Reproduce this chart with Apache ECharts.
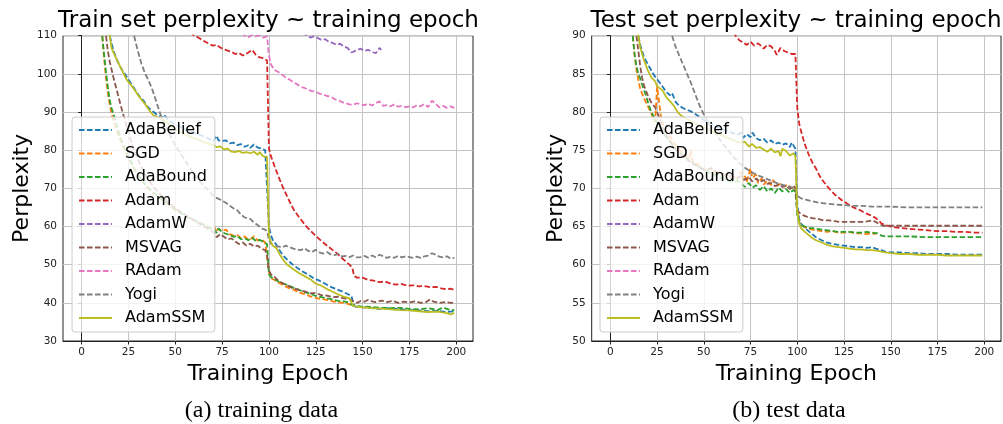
<!DOCTYPE html>
<html>
<head>
<meta charset="utf-8">
<script src="https://cdn.jsdelivr.net/npm/echarts@6/dist/echarts.min.js"></script>
<style>html,body{margin:0;padding:0;background:#fff;}#c{width:1003px;height:424px;}</style>
</head>
<body>
<div id="c"></div>
<script>
// ---------- data ----------
const seriesNames = ['AdaBelief','SGD','AdaBound','Adam','AdamW','MSVAG','RAdam','Yogi','AdamSSM'];
const seriesColors = ['#1f77b4','#ff7f0e','#2ca02c','#d62728','#9467bd','#8c564b','#e377c2','#7f7f7f','#bcbd22'];
const xTicks = [0,25,50,75,100,125,150,175,200];
const trainYTicks = [30,40,50,60,70,80,90,100,110];
const testYTicks = [50,55,60,65,70,75,80,85,90];

// train set perplexity: [epoch, perplexity]
const trainAdaBelief = [[14,112],[15,110],[17,106],[19,103.5],[21,101.5],[23,100],[25,98.5],[27,97],[29,95.5],[31,94],[33,93],[35,91.5],[37,90.5],[39,89.8],[41,89],[43,88.5],[44,89.3],[46,88],[48,87.3],[50,86.6],[53,86],[56,85.2],[59,84.8],[62,84.2],[65,83.6],[68,83],[70,82.3],[72,83.8],[73,82.6],[75,82.4],[77,82.6],[79,81.8],[81,82],[83,81.3],[85,81.6],[87,80.9],[89,81.3],[90,80.6],[92,81.5],[94,80.7],[96,80.4],[98,80],[99,79.7],[100,60],[101,57.8],[102,56.5],[104,55.2],[106,53.5],[108,52.2],[110,51.2],[112,50.3],[115,49.2],[118,48.2],[121,47.4],[124,46.4],[127,45.8],[130,45],[133,44.2],[136,43.6],[139,43],[142,42.3],[144,41.9],[145,40],[146,39],[150,38.8],[155,38.6],[160,38.4],[165,38.6],[170,38.3],[175,38.1],[180,38],[185,37.8],[190,37.9],[195,37.6],[199,37.8]];
const trainSGD = [[10,112],[11,110],[12,104],[13,99],[14,95],[15,92],[16,89.5],[18,86],[20,83.5],[22,81],[25,78],[28,75],[31,72.8],[34,70.8],[37,69.3],[40,68.2],[43,67],[46,65.8],[50,64.3],[54,63.2],[58,62],[62,61.2],[66,60.3],[69,59.6],[71,59.8],[72,58.5],[73,59.4],[75,58.8],[77,59.2],[79,58],[81,57.6],[83,57.8],[85,57],[87,57.4],[89,56.6],[91,56.9],[92,57.5],[94,56.3],[96,56.6],[98,55.8],[99,55.3],[100,48],[101,46.5],[103,46],[105,45.3],[107,44.8],[110,44],[113,43.5],[116,42.7],[119,42.3],[122,41.7],[125,41.3],[128,41],[131,40.8],[134,40.4],[137,40.1],[140,40],[143,39.6],[145,39.3]];
const trainAdaBound = [[10,112],[11,110],[12,105],[13,100.5],[14,96.5],[15,93],[16,91],[17,89.5],[19,86],[21,83],[23,80.5],[25,78.3],[28,75.3],[31,73],[34,71],[37,69.5],[40,68.3],[43,67],[46,65.9],[50,64.5],[54,63.2],[58,62.1],[62,61.2],[66,60.3],[69,59.5],[71,59.2],[72,58.3],[73,59.5],[75,58.5],[77,58.1],[79,57.8],[81,57.3],[83,57.6],[85,56.7],[87,56.9],[89,56.4],[91,57.1],[93,56.2],[95,56.5],[97,56],[99,55.4],[100,47.5],[101,46.8],[103,46.3],[105,45.6],[107,45.2],[110,44.6],[113,44],[116,43.4],[119,42.8],[122,42.4],[125,41.8],[128,41.5],[131,41.2],[134,40.9],[137,40.5],[140,40.4],[143,40],[145,39.2],[146,38.8],[150,39],[155,38.9],[160,38.7],[165,38.6],[170,38.7],[175,38.4],[180,38.3],[185,38.6],[190,38.1],[193,38.8],[196,38.2],[199,38.1]];
const trainAdam = [[58,111],[60,110],[62,109.6],[64,109],[66,108.4],[68,107.9],[70,107.4],[72,107.6],[74,106.9],[76,106.4],[78,106.1],[80,105.8],[82,105.2],[84,105.5],[86,104.8],[88,105.3],[89,104.9],[91,106.3],[93,105],[95,104.3],[97,104.1],[99,103.5],[100,80.5],[101,78.5],[103,75.8],[105,73.2],[107,70.8],[110,67.6],[113,64.6],[116,62.5],[120,60],[124,58],[128,56.2],[132,54.6],[136,53.1],[140,51.3],[143,50],[144.5,49.2],[145.5,47],[147,46.6],[150,46.6],[153,46],[156,45.8],[159,45.4],[162,45.6],[165,45],[168,44.8],[171,44.9],[174,44.5],[177,44.6],[180,44.3],[183,44.4],[186,44.1],[189,44.2],[192,43.8],[195,43.5],[197,43.7],[199,43.4]];
const trainAdamW = [[118,111],[120,110.2],[122,109.5],[124,109.8],[126,109.4],[128,108.9],[130,109.1],[132,108.4],[134,108.1],[136,107.6],[138,107.9],[140,107.2],[142,106.8],[144,105.6],[145,105.3],[147,106.2],[149,106.6],[151,106],[153,106.3],[155,105.8],[157,105.4],[159,106.8],[160,106.3]];
const trainMSVAG = [[12,112],[13,110],[14,106],[15,103.2],[17,99],[19,95.3],[21,91.5],[23,88],[25,84.5],[28,80],[31,76.5],[34,73.5],[37,71.3],[40,69.5],[43,67.8],[46,66.4],[50,64.8],[54,63.5],[58,62.3],[62,61],[66,59.8],[69,59],[71,58.2],[72,57.2],[74,58],[76,57.3],[78,56.6],[80,56.9],[82,56.1],[84,55.4],[86,55.8],[88,55],[90,55.5],[92,54.8],[94,55],[96,54.2],[98,53.8],[99,52.5],[100,48.5],[101,47.5],[103,46.8],[105,45.8],[107,45.2],[110,44.5],[113,43.8],[116,43.4],[119,43],[122,42.5],[125,42.6],[128,42],[131,41.9],[134,41.5],[137,41.6],[140,41.2],[143,41],[145,40.4],[147,40],[149,40.5],[151,40.3],[153,40.8],[155,40.4],[157,40.2],[160,40.6],[163,40.2],[166,40.5],[169,40],[172,40.3],[175,40.1],[178,40.4],[181,40],[184,40.2],[186,40.9],[188,40.3],[191,40],[194,40.2],[197,40],[199,40.1]];
const trainRAdam = [[86,111],[87,110],[89,109.6],[91,110.2],[93,109.8],[95,110.1],[97,109.5],[99,109.8],[100,104.8],[101,102.5],[103,101],[105,100.5],[107,99.8],[109,99],[111,98.5],[113,97.8],[115,97.3],[117,96.6],[119,96.3],[121,95.8],[123,95.5],[125,95.3],[127,94.8],[129,94.6],[131,94.2],[133,94],[135,93.4],[137,93.1],[139,92.6],[141,92.3],[143,92],[145,91.9],[147,92.3],[149,92],[151,91.8],[153,92.2],[155,91.7],[157,92.3],[159,92.8],[161,91.6],[163,91.8],[165,91.5],[167,92],[169,91.4],[171,91.6],[173,91.3],[175,91.5],[177,91.2],[179,91.8],[181,91.5],[183,92.1],[185,91.3],[187,93],[189,92.2],[191,91.2],[193,91.6],[195,91.1],[197,91.5],[199,91.1]];
const trainYogi = [[27,112],[28,110],[30,106],[32,102.5],[34,100],[36,98],[38,95.5],[40,92.5],[42,89.5],[44,87],[46,85],[48,83],[50,81.3],[53,79],[56,76.7],[59,74.5],[62,72.5],[65,70.8],[68,69.3],[70,68.2],[72,67.5],[73,68],[75,66.8],[77,66.2],[79,65.5],[81,64.8],[83,64.3],[85,63.2],[87,62.4],[88,62.9],[90,62],[92,61],[94,60.4],[96,59.5],[98,59.2],[99,58.6],[100,56.5],[101,55.5],[103,55],[105,54.8],[107,54.5],[109,55],[111,54.6],[113,54.2],[115,54],[117,53.8],[119,54.3],[121,53.6],[123,53.3],[125,53.9],[127,53.2],[129,52.9],[131,53.3],[133,52.7],[135,52.5],[137,52.8],[139,52.2],[141,52.3],[143,52],[145,52.4],[147,51.9],[149,52],[151,52.3],[153,51.8],[155,52.4],[157,52],[159,52.6],[161,52.2],[163,51.8],[165,52.1],[167,51.8],[169,52.3],[171,51.9],[173,52.2],[175,52],[177,51.8],[179,52.1],[181,51.8],[183,52.2],[185,52.4],[187,53],[189,52.6],[191,52.1],[193,51.9],[195,52.2],[197,51.6],[199,51.8]];
const trainAdamSSM = [[14,112],[15,110],[16,106.7],[18,104.5],[20,102.5],[22,100.5],[24,98.5],[26,97.3],[28,96],[30,94.5],[32,93.2],[34,92],[36,90.5],[38,89.3],[40,88.8],[43,88.2],[46,87],[50,85.5],[54,84.5],[58,83.5],[62,82.8],[66,82],[70,81.4],[72,80.8],[74,81],[76,80.2],[78,80.4],[80,79.6],[82,79.5],[84,79.8],[86,79.3],[88,79.5],[90,79.2],[92,79.6],[94,78.8],[95,79.5],[97,78.4],[99,78.3],[100,57.5],[101,56],[102,55],[104,54.3],[106,52.5],[108,51],[110,49.9],[113,48.8],[116,47.8],[119,47],[122,46.2],[125,45],[128,44.5],[131,43.6],[134,42.9],[137,42.2],[140,41.6],[143,41.2],[144,40.8],[145,39.2],[147,39],[150,38.8],[155,38.6],[160,38.5],[165,38.3],[170,38.1],[175,38],[180,37.8],[185,37.6],[190,37.7],[195,37.3],[197,37],[199,37.3]];

// test set perplexity: [epoch, perplexity]
const testAdaBelief = [[14,91],[15,90],[16,88.8],[18,87.2],[20,86.3],[22,85.4],[24,84.6],[25,84.8],[26,84],[28,83.3],[30,82.6],[32,82.2],[33,82.5],[35,81.3],[37,80.8],[39,80.5],[41,80.3],[43,80.1],[45,79.8],[48,79.3],[51,78.8],[54,78.5],[57,78],[60,77.8],[63,77.5],[66,77.2],[68,77],[70,77.3],[71,76.6],[73,77.1],[75,76.7],[76,77.3],[78,76.6],[80,76.3],[82,76.5],[84,76],[86,76.3],[88,75.8],[90,76],[92,75.7],[94,75.9],[96,75.4],[97,76],[98,75.6],[99,75.2],[100,68],[101,66],[102,65.4],[104,64.8],[106,64.4],[108,64],[110,63.6],[113,63.2],[116,62.9],[119,62.7],[122,62.6],[125,62.5],[128,62.4],[131,62.3],[134,62.3],[137,62.2],[140,62.3],[142,62.1],[145,61.9],[147,61.7],[150,61.6],[155,61.6],[160,61.5],[165,61.5],[170,61.4],[175,61.4],[180,61.4],[185,61.3],[190,61.3],[195,61.3],[199,61.3]];
const testSGD = [[11,91],[12,90],[13,87.5],[14,85.5],[15,84.2],[16,83],[18,81.8],[20,80.8],[22,79.8],[23,79],[24,78.7],[25,83.3],[26,81.5],[27,79.5],[28,78.5],[30,77.5],[32,76.8],[34,76],[36,75.4],[38,74.8],[40,74.3],[42,73.8],[43,75],[44,73.5],[46,73.3],[48,72.8],[50,72.5],[52,72.2],[54,72.7],[56,71.9],[58,72.3],[60,71.6],[62,71.9],[64,71.3],[66,71.7],[68,71.2],[70,72.2],[71,71],[72,71.6],[73,70.8],[74,71.8],[75,72.6],[76,71.4],[78,71.8],[79,70.7],[81,71.3],[82,70.5],[84,71],[86,70.4],[87,71.1],[89,70.3],[91,70.6],[93,70.2],[95,70.5],[97,70],[99,70.2],[100,67],[101,65.6],[102,65.2],[104,64.9],[106,64.7],[108,64.6],[110,64.5],[113,64.4],[116,64.3],[119,64.4],[122,64.2],[125,64.2],[128,64.3],[131,64.1],[134,64.1],[137,64],[140,64.1],[142,64]];
const testAdaBound = [[11,91],[12,90],[13,87.5],[14,86],[15,85],[16,84.4],[17,83.6],[19,82.2],[21,80.6],[22,80],[24,79],[26,78.2],[28,77.4],[30,76.7],[33,75.8],[36,75],[39,74.3],[42,73.7],[45,73.2],[48,72.7],[51,72.3],[54,71.9],[57,71.6],[60,71.3],[63,71],[66,70.8],[68,71],[70,70.6],[72,70.2],[74,70.7],[76,70.1],[78,70.4],[80,69.8],[82,70.3],[84,69.6],[86,70],[88,69.4],[90,70.1],[92,69.6],[94,69.9],[96,69.4],[98,69.8],[99,69.5],[100,66.5],[101,65.6],[102,65.2],[104,65],[106,64.8],[108,64.8],[110,64.7],[113,64.6],[116,64.5],[119,64.4],[122,64.3],[125,64.3],[128,64.3],[131,64.2],[134,64.2],[137,64.3],[140,64.2],[143,64.1],[145,63.8],[147,63.7],[150,63.7],[155,63.7],[160,63.7],[170,63.6],[180,63.6],[190,63.6],[199,63.6]];
const testAdam = [[66,90.5],[67,90],[69,89.4],[71,89.1],[73,88.8],[75,89.2],[77,88.7],[79,89],[81,88.6],[82,88.3],[84,88.8],[86,88.6],[88,88],[89,87.5],[91,88.4],[93,88],[95,87.8],[97,87.6],[99,87.6],[100,80.5],[101,78.5],[102,77.5],[104,75.8],[106,74.5],[108,73.4],[110,72.6],[112,71.6],[114,70.9],[116,70.3],[118,69.7],[120,69.2],[122,68.8],[124,68.4],[126,68.1],[128,67.8],[130,67.5],[132,67.3],[134,67.1],[136,66.8],[138,66.6],[140,66.4],[142,66.1],[144,65.7],[145,65.4],[147,65.2],[150,65],[155,64.8],[160,64.7],[165,64.6],[170,64.5],[175,64.4],[180,64.4],[185,64.3],[190,64.3],[195,64.2],[199,64.2]];
const testAdamW = [];
const testMSVAG = [[13,91],[14,90],[15,88],[16,86],[17,84.5],[18,83.5],[20,82.2],[22,81.2],[24,80.6],[26,79.4],[28,78],[30,76.9],[33,75.8],[36,74.8],[39,74.2],[42,73.6],[45,73.1],[48,72.7],[51,72.4],[54,72.6],[57,72.1],[60,71.9],[63,71.7],[66,71.5],[68,71.4],[70,71.6],[72,71.1],[74,71.5],[76,70.9],[78,71.3],[80,70.8],[82,71.1],[84,70.6],[86,70.7],[88,70.3],[90,70.5],[92,70.2],[94,70.4],[96,69.9],[98,70.3],[99,70],[100,67.2],[101,66.8],[103,66.5],[105,66.3],[108,66.1],[111,66],[114,65.8],[117,65.8],[120,65.7],[123,65.6],[126,65.6],[129,65.6],[132,65.6],[135,65.6],[138,65.7],[140,65.8],[142,65.6],[144,65.3],[146,65.1],[150,65.1],[160,65.1],[170,65.1],[180,65.1],[190,65.1],[199,65.1]];
const testRAdam = [];
const testYogi = [[32,91],[33,90],[35,88.5],[37,87.3],[39,86.2],[41,85],[43,83.9],[45,82.6],[47,81.3],[49,80.2],[51,79.2],[54,78],[57,76.9],[60,75.9],[63,75],[66,74.1],[69,73.3],[72,72.7],[75,72.2],[78,71.8],[81,71.5],[84,71.2],[87,70.9],[90,70.6],[93,70.4],[96,70.2],[99,70],[100,69],[102,68.7],[105,68.5],[108,68.3],[112,68.1],[116,68],[120,67.9],[125,67.8],[130,67.7],[135,67.7],[140,67.6],[150,67.6],[160,67.5],[170,67.5],[180,67.5],[190,67.5],[199,67.5]];
const testAdamSSM = [[14,91],[15,90],[16,88.5],[18,86.8],[20,85.5],[22,84.5],[24,84],[25,83.4],[26,83.5],[28,82.8],[30,81.9],[32,81.4],[34,80.8],[36,80],[38,79.5],[40,79.2],[43,78.8],[46,78.4],[50,78],[54,77.5],[58,77.1],[62,76.7],[66,76.3],[69,76],[70,75.8],[72,76.1],[74,75.5],[76,75.8],[78,75.3],[80,75.4],[82,75.1],[84,74.8],[86,75.2],[88,74.7],[90,74.9],[91,74.2],[92,75.2],[94,74.9],[95,75.1],[96,74.3],[98,74.6],[99,74.2],[100,67],[101,65.4],[102,64.8],[104,64.3],[106,63.9],[108,63.5],[110,63.2],[113,62.9],[116,62.6],[119,62.4],[122,62.3],[125,62.2],[128,62.1],[131,62],[134,62],[137,61.9],[140,61.9],[143,61.8],[145,61.7],[147,61.6],[150,61.5],[155,61.4],[160,61.4],[165,61.3],[170,61.3],[175,61.3],[180,61.2],[185,61.2],[190,61.2],[195,61.2],[199,61.2]];

const trainData = [trainAdaBelief, trainSGD, trainAdaBound, trainAdam, trainAdamW, trainMSVAG, trainRAdam, trainYogi, trainAdamSSM];
const testData = [testAdaBelief, testSGD, testAdaBound, testAdam, testAdamW, testMSVAG, testRAdam, testYogi, testAdamSSM];

// ---------- chart ----------
const FONT = 'DejaVu Sans';
const DASH = [5.5, 2.5];
const LW = 1.8;
const chart = echarts.init(document.getElementById('c'), null, {renderer: 'canvas'});

function makeXAxis(gridIndex) {
  return {
    type: 'value', gridIndex: gridIndex, min: -9.95, max: 208.95,
    name: 'Training Epoch', nameLocation: 'middle', nameGap: 22,
    nameTextStyle: {fontFamily: FONT, fontSize: 22, color: '#000'},
    axisLine: {show: true, onZero: false, lineStyle: {color: '#222', width: 1}},
    axisTick: {show: true, length: 3.5, lineStyle: {color: '#222', width: 1}, customValues: xTicks},
    axisLabel: {fontFamily: FONT, fontSize: 10.5, color: '#222', margin: 6, customValues: xTicks},
    splitLine: {show: true, lineStyle: {color: '#c4c4c4', width: 1}}
  };
}
function makeYAxis(gridIndex, ticks, nameGap) {
  return {
    type: 'value', gridIndex: gridIndex, min: ticks[0], max: ticks[ticks.length - 1],
    interval: ticks[1] - ticks[0],
    name: 'Perplexity', nameLocation: 'middle', nameGap: nameGap,
    nameTextStyle: {fontFamily: FONT, fontSize: 22, color: '#000'},
    axisLine: {show: true, lineStyle: {color: '#222', width: 1}},
    axisTick: {show: true, length: 3.5, lineStyle: {color: '#222', width: 1}},
    axisLabel: {fontFamily: FONT, fontSize: 10.5, color: '#222', margin: 6},
    splitLine: {show: true, lineStyle: {color: '#c4c4c4', width: 1}}
  };
}
function makeLegend(left) {
  return {
    orient: 'vertical', left: left, top: 117,
    itemWidth: 33, itemHeight: 14, itemGap: 7.5,
    padding: [5, 8, 6, 6],
    backgroundColor: 'rgba(255,255,255,0.8)',
    borderColor: '#cccccc', borderWidth: 1, borderRadius: 3,
    itemStyle: {opacity: 0},
    textStyle: {fontFamily: FONT, fontSize: 16, color: '#000', padding: [0, 0, 0, 8]},
    data: seriesNames, selectedMode: false
  };
}

const series = [];
[trainData, testData].forEach(function (set, gi) {
  set.forEach(function (d, i) {
    const name = seriesNames[i];
    series.push({
      name: name, type: 'line', xAxisIndex: gi, yAxisIndex: gi,
      data: d, showSymbol: false, symbol: 'none', clip: true,
      color: seriesColors[i],
      lineStyle: {width: LW, color: seriesColors[i], type: name === 'AdamSSM' ? 'solid' : DASH},
      emphasis: {disabled: true}, animation: false
    });
  });
});

chart.setOption({
  animation: false,
  backgroundColor: '#ffffff',
  grid: [
    {left: 63, top: 35.7, width: 410, height: 305.3, show: true, borderColor: '#222', borderWidth: 1, backgroundColor: 'transparent'},
    {left: 591.7, top: 35.7, width: 409.3, height: 305.3, show: true, borderColor: '#222', borderWidth: 1, backgroundColor: 'transparent'}
  ],
  xAxis: [makeXAxis(0), makeXAxis(1)],
  yAxis: [makeYAxis(0, trainYTicks, 30), makeYAxis(1, testYTicks, 24.5)],
  legend: [makeLegend(72), makeLegend(600)],
  graphic: [
    {type: 'text', x: 268.5, y: 21, style: {text: 'Train set perplexity ~ training epoch', font: '23px "DejaVu Sans"', fill: '#000', textAlign: 'center', textVerticalAlign: 'middle'}},
    {type: 'text', x: 796, y: 21, style: {text: 'Test set perplexity ~ training epoch', font: '23px "DejaVu Sans"', fill: '#000', textAlign: 'center', textVerticalAlign: 'middle'}},
    {type: 'text', x: 261.5, y: 411, style: {text: '(a) training data', font: '24px "Liberation Serif"', fill: '#000', textAlign: 'center', textVerticalAlign: 'middle'}},
    {type: 'text', x: 789, y: 411, style: {text: '(b) test data', font: '24px "Liberation Serif"', fill: '#000', textAlign: 'center', textVerticalAlign: 'middle'}}
  ],
  series: series
});
</script>
</body>
</html>
